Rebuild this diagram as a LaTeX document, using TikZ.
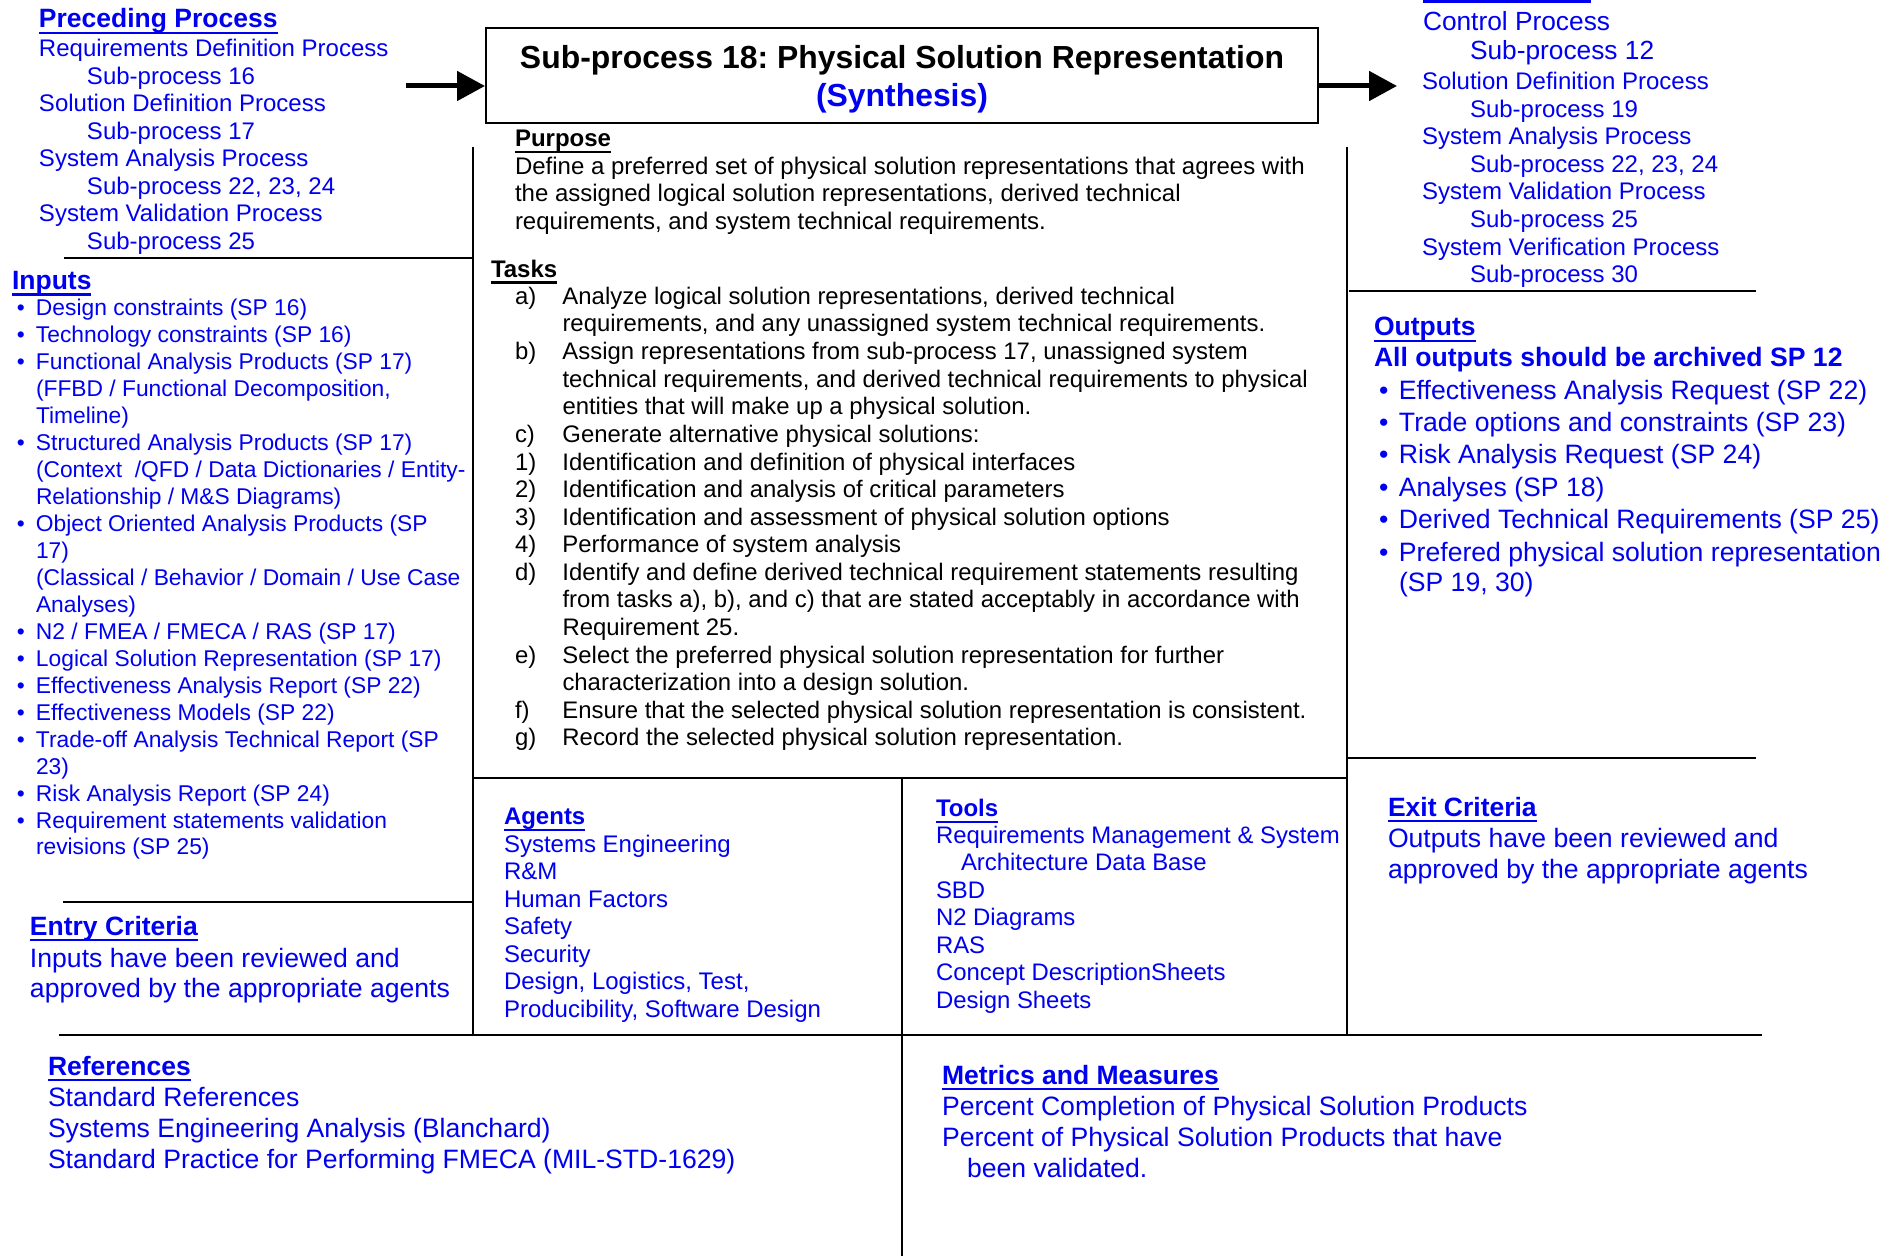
\documentclass[tikz,border=0pt]{standalone}
\usepackage{fontspec}
\setmainfont{Liberation Sans}
\usetikzlibrary{arrows.meta}
\definecolor{myblue}{RGB}{0,0,240}
\frenchspacing
\newcommand\fsz[2]{\fontsize{#1}{#2}\selectfont}
\newcommand\Tp{\rule{0pt}{1em}}
\newcommand\hd[1]{\setbox0\hbox{#1}\rlap{\rule[-3.2pt]{\wd0}{1.4pt}}\box0}
\newcommand\bul[1]{\makebox[#1][l]{\textbullet}}
\newcommand\lab[1]{\makebox[23.75pt][l]{#1}}
\begin{document}
\begin{tikzpicture}[x=0.5pt,y=-0.5pt,
  blk/.style={anchor=north west, inner sep=0pt, outer sep=0pt, align=left, text=myblue},
  hdg/.style={anchor=base west, inner sep=0pt, outer sep=0pt, text=myblue},
  sepline/.style={line width=1.3pt},
  flow/.style={line width=2.5pt, -{Triangle[length=14pt,width=14.5pt]}},
  titlebox/.style={draw, line width=1pt, minimum width=416pt, minimum height=47.5pt,
    inner sep=0pt, align=center, font=\fsz{15.95}{18.8}\bfseries}]
\useasboundingbox (0,0) rectangle (1902,1256);

% title box and arrows
\node[titlebox] (title) at (902,75.5) {\rule{0pt}{15.4pt}Sub-process 18: Physical Solution Representation\\ \textcolor{myblue}{(Synthesis)}};
\coordinate (inL) at (406,86);
\coordinate (outR) at (1397,86);
\draw[flow] (inL) -- (title.west |- inL);
\draw[flow] (title.east |- outR) -- (outR);

% separator lines
\draw[sepline] (473,147) -- (473,1035);
\draw[sepline] (1347,147) -- (1347,1035);
\draw[sepline] (902,778) -- (902,1256);
\draw[sepline] (64,258) -- (473,258);
\draw[sepline] (1349,291) -- (1756,291);
\draw[sepline] (473,778) -- (1347,778);
\draw[sepline] (1347,758) -- (1756,758);
\draw[sepline] (63,902) -- (473,902);
\draw[sepline] (59,1035) -- (1762,1035);
\draw[myblue, line width=1.5pt] (1423,1.5) -- (1591,1.5);

% preceding process
\node[hdg, font=\fsz{13.25}{15}\bfseries] (prech) at (39,28) {\hd{Preceding Process}};
\node[blk, font=\fsz{12}{13.75}] (prec) at (39,33) {\Tp Requirements Definition Process\\
\hspace*{24pt}Sub-process 16\\
Solution Definition Process\\
\hspace*{24pt}Sub-process 17\\
System Analysis Process\\
\hspace*{24pt}Sub-process 22, 23, 24\\
System Validation Process\\
\hspace*{24pt}Sub-process 25};

% succeeding process
\node[blk, font=\fsz{13.15}{14.5}] (succa) at (1423,4.2) {\Tp Control Process\\
\hspace*{23.5pt}Sub-process 12};
\node[blk, font=\fsz{12}{13.8}] (succb) at (1422,65.5) {\Tp Solution Definition Process\\
\hspace*{24pt}Sub-process 19\\
System Analysis Process\\
\hspace*{24pt}Sub-process 22, 23, 24\\
System Validation Process\\
\hspace*{24pt}Sub-process 25\\
System Verification Process\\
\hspace*{24pt}Sub-process 30};

% purpose
\node[hdg, text=black, font=\fsz{12}{13.75}\bfseries] (purh) at (515,147) {\hd{Purpose}};
\node[blk, text=black, font=\fsz{12}{13.75}] (pur) at (515,150.5) {\Tp Define a preferred set of physical solution representations that agrees with\\
the assigned logical solution representations, derived technical\\
requirements, and system technical requirements.};

% tasks
\node[hdg, text=black, font=\fsz{12}{13.75}\bfseries] (taskh) at (491,277.5) {\hd{Tasks}};
\node[blk, text=black, font=\fsz{11.95}{13.8}] (tasks) at (515,280.5) {\Tp\lab{a)}Analyze logical solution representations, derived technical\\
\hspace*{23.75pt}requirements, and any unassigned system technical requirements.\\
\lab{b)}Assign representations from sub-process 17, unassigned system\\
\hspace*{23.75pt}technical requirements, and derived technical requirements to physical\\
\hspace*{23.75pt}entities that will make up a physical solution.\\
\lab{c)}Generate alternative physical solutions:\\
\lab{1)}Identification and definition of physical interfaces\\
\lab{2)}Identification and analysis of critical parameters\\
\lab{3)}Identification and assessment of physical solution options\\
\lab{4)}Performance of system analysis\\
\lab{d)}Identify and define derived technical requirement statements resulting\\
\hspace*{23.75pt}from tasks a), b), and c) that are stated acceptably in accordance with\\
\hspace*{23.75pt}Requirement 25.\\
\lab{e)}Select the preferred physical solution representation for further\\
\hspace*{23.75pt}characterization into a design solution.\\
\lab{f)}Ensure that the selected physical solution representation is consistent.\\
\lab{g)}Record the selected physical solution representation.};

% inputs
\node[hdg, font=\fsz{13.25}{15}\bfseries] (inh) at (12,289.5) {\hd{Inputs}};
\node[blk, font=\fsz{11.4}{13.48}] (inputs) at (17,293) {\Tp\bul{9.5pt}Design constraints (SP 16)\\
\bul{9.5pt}Technology constraints (SP 16)\\
\bul{9.5pt}Functional Analysis Products (SP 17)\\
\hspace*{9.5pt}(FFBD / Functional Decomposition,\\
\hspace*{9.5pt}Timeline)\\
\bul{9.5pt}Structured Analysis Products (SP 17)\\
\hspace*{9.5pt}(Context \ /QFD / Data Dictionaries / Entity-\\
\hspace*{9.5pt}Relationship / M\&S Diagrams)\\
\bul{9.5pt}Object Oriented Analysis Products (SP\\
\hspace*{9.5pt}17)\\
\hspace*{9.5pt}(Classical / Behavior / Domain / Use Case\\
\hspace*{9.5pt}Analyses)\\
\bul{9.5pt}N2 / FMEA / FMECA / RAS (SP 17)\\
\bul{9.5pt}Logical Solution Representation (SP 17)\\
\bul{9.5pt}Effectiveness Analysis Report (SP 22)\\
\bul{9.5pt}Effectiveness Models (SP 22)\\
\bul{9.5pt}Trade-off Analysis Technical Report (SP\\
\hspace*{9.5pt}23)\\
\bul{9.5pt}Risk Analysis Report (SP 24)\\
\bul{9.5pt}Requirement statements validation\\
\hspace*{9.5pt}revisions (SP 25)};

% outputs
\node[hdg, font=\fsz{13.25}{15}\bfseries] (outh) at (1374,336) {\hd{Outputs}};
\node[hdg, font=\fsz{13.3}{15}\bfseries] (arch) at (1374,367) {All outputs should be archived SP 12};
\node[blk, font=\fsz{13.3}{16.2}] (outputs) at (1379,372.5) {\Tp\bul{10pt}Effectiveness Analysis Request (SP 22)\\
\bul{10pt}Trade options and constraints (SP 23)\\
\bul{10pt}Risk Analysis Request (SP 24)\\
\bul{10pt}Analyses (SP 18)\\
\bul{10pt}Derived Technical Requirements (SP 25)\\
\bul{10pt}Prefered physical solution representation\\[-1pt]
\hspace*{10pt}(SP 19, 30)};

% agents
\node[hdg, font=\fsz{12}{13.75}\bfseries] (agh) at (504,825) {\hd{Agents}};
\node[blk, font=\fsz{12}{13.75}] (agents) at (504,828) {\Tp Systems Engineering\\
R\&M\\
Human Factors\\
Safety\\
Security\\
Design, Logistics, Test,\\
Producibility, Software Design};

% tools
\node[hdg, font=\fsz{12}{13.75}\bfseries] (toolh) at (936,817) {\hd{Tools}};
\node[blk, font=\fsz{11.95}{13.75}] (tools) at (936,819.5) {\Tp Requirements Management \& System\\
\hspace*{12.5pt}Architecture Data Base\\
SBD\\
N2 Diagrams\\
RAS\\
Concept DescriptionSheets\\
Design Sheets};

% exit criteria
\node[hdg, font=\fsz{13.25}{15}\bfseries] (exith) at (1388,816) {\hd{Exit Criteria}};
\node[blk, font=\fsz{13.3}{15.5}] (exit) at (1388,820.4) {\Tp Outputs have been reviewed and\\
approved by the appropriate agents};

% entry criteria
\node[hdg, font=\fsz{13.25}{15}\bfseries] (entryh) at (30,935) {\hd{Entry Criteria}};
\node[blk, font=\fsz{13.3}{15.25}] (entry) at (30,940.4) {\Tp Inputs have been reviewed and\\
approved by the appropriate agents};

% references
\node[hdg, font=\fsz{13.25}{15}\bfseries] (refh) at (48,1075) {\hd{References}};
\node[blk, font=\fsz{13.3}{15.4}] (refs) at (48,1080) {\Tp Standard References\\
Systems Engineering Analysis (Blanchard)\\
Standard Practice for Performing FMECA (MIL-STD-1629)};

% metrics
\node[hdg, font=\fsz{13.25}{15}\bfseries] (meth) at (942,1084) {\hd{Metrics and Measures}};
\node[blk, font=\fsz{13.3}{15.5}] (metrics) at (942,1088.4) {\Tp Percent Completion of Physical Solution Products\\
Percent of Physical Solution Products that have\\
\hspace*{12.5pt}been validated.};
\end{tikzpicture}
\end{document}
